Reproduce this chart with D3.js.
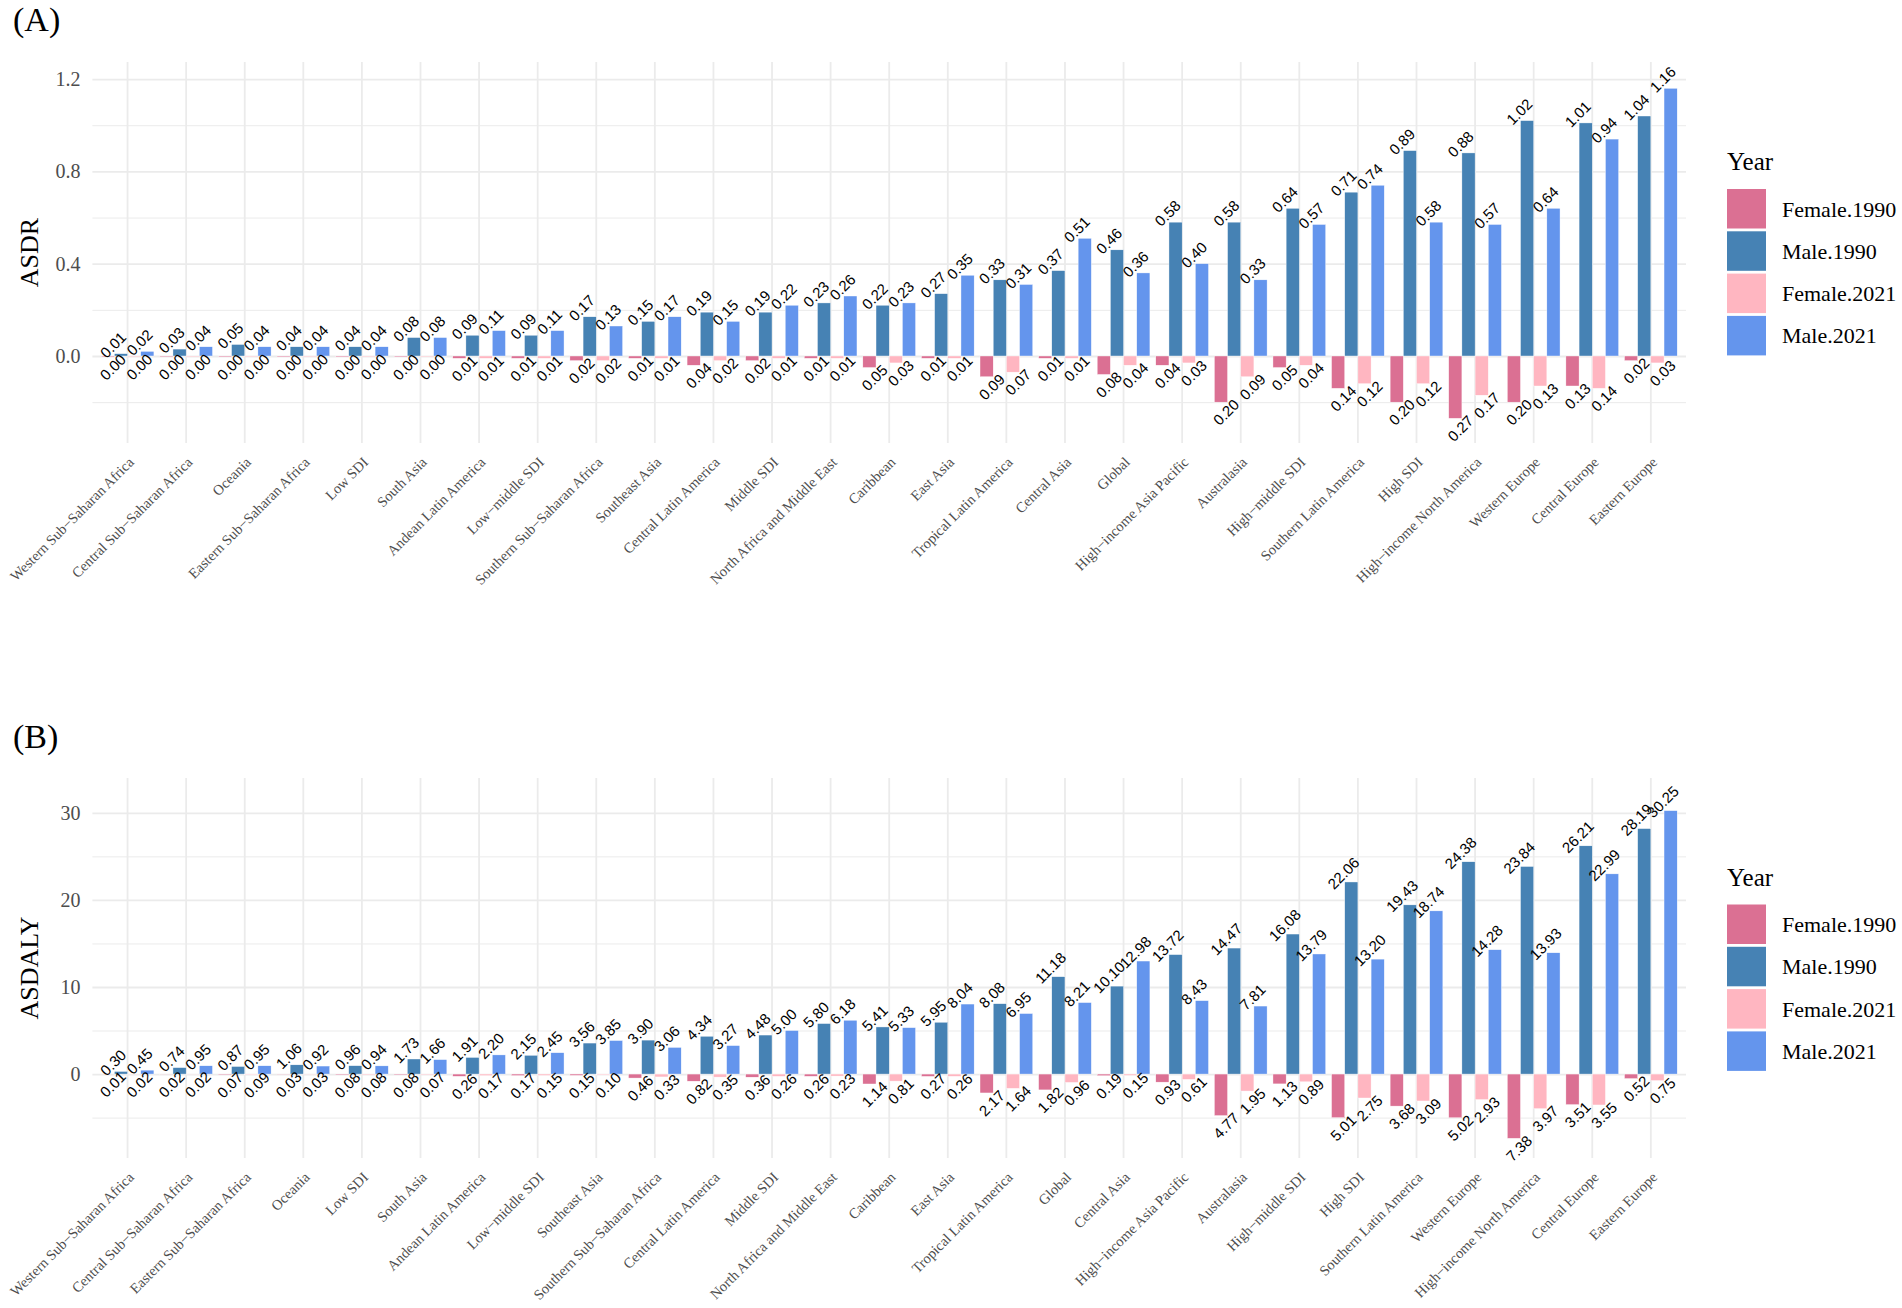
<!DOCTYPE html>
<meta charset="utf-8">
<style>
body { margin: 0; background: #fff; }
svg text { font-family: "Liberation Serif", "Times New Roman", serif; }
.grid line { stroke: #ebebeb; }
.grid path { display: none; }
.vlab { font-family: "Liberation Sans", Arial, sans-serif; font-size: 15px; fill: #000; }
</style>
<svg id="chart" width="1902" height="1308"></svg>
<script src="https://d3js.org/d3.v7.min.js"></script>
<script>

// series order used for dodging and in the legend
var keys = ["Female.1990", "Male.1990", "Female.2021", "Male.2021"];
var colors = ["#DB7093", "#4682B4", "#FFB6C1", "#6495ED"];

// (A) ASDR
var catsA = ["Western Sub−Saharan Africa", "Central Sub−Saharan Africa", "Oceania", "Eastern Sub−Saharan Africa",
  "Low SDI", "South Asia", "Andean Latin America", "Low−middle SDI", "Southern Sub−Saharan Africa", "Southeast Asia",
  "Central Latin America", "Middle SDI", "North Africa and Middle East", "Caribbean", "East Asia",
  "Tropical Latin America", "Central Asia", "Global", "High−income Asia Pacific", "Australasia", "High−middle SDI",
  "Southern Latin America", "High SDI", "High−income North America", "Western Europe", "Central Europe", "Eastern Europe"];
var femaleA1990 = [0.004, 0.003, 0.004, 0.004, 0.004, 0.004, 0.01, 0.01, 0.02, 0.01, 0.04, 0.02, 0.01, 0.05,
  0.01, 0.09, 0.01, 0.08, 0.04, 0.20, 0.05, 0.14, 0.20, 0.27, 0.20, 0.13, 0.02];
var maleA1990 = [0.01, 0.03, 0.05, 0.04, 0.04, 0.08, 0.09, 0.09, 0.17, 0.15, 0.19, 0.19, 0.23, 0.22,
  0.27, 0.33, 0.37, 0.46, 0.58, 0.58, 0.64, 0.71, 0.89, 0.88, 1.02, 1.01, 1.04];
var femaleA2021 = [0.003, 0.003, 0.003, 0.003, 0.003, 0.003, 0.01, 0.01, 0.02, 0.01, 0.02, 0.01, 0.01, 0.03,
  0.01, 0.07, 0.01, 0.04, 0.03, 0.09, 0.04, 0.12, 0.12, 0.17, 0.13, 0.14, 0.03];
var maleA2021 = [0.02, 0.04, 0.04, 0.04, 0.04, 0.08, 0.11, 0.11, 0.13, 0.17, 0.15, 0.22, 0.26, 0.23,
  0.35, 0.31, 0.51, 0.36, 0.40, 0.33, 0.57, 0.74, 0.58, 0.57, 0.64, 0.94, 1.16];
var ticksA = [0, 0.4, 0.8, 1.2];
var minorA = [-0.2, 0.2, 0.6, 1.0];

// (B) ASDALY
var catsB = ["Western Sub−Saharan Africa", "Central Sub−Saharan Africa", "Eastern Sub−Saharan Africa", "Oceania",
  "Low SDI", "South Asia", "Andean Latin America", "Low−middle SDI", "Southeast Asia", "Southern Sub−Saharan Africa",
  "Central Latin America", "Middle SDI", "North Africa and Middle East", "Caribbean", "East Asia",
  "Tropical Latin America", "Global", "Central Asia", "High−income Asia Pacific", "Australasia", "High−middle SDI",
  "High SDI", "Southern Latin America", "Western Europe", "High−income North America", "Central Europe", "Eastern Europe"];
var femaleB1990 = [0.01, 0.02, 0.07, 0.03, 0.08, 0.08, 0.26, 0.17, 0.15, 0.46, 0.82, 0.36, 0.26, 1.14,
  0.27, 2.17, 1.82, 0.19, 0.93, 4.77, 1.13, 5.01, 3.68, 5.02, 7.38, 3.51, 0.52];
var maleB1990 = [0.30, 0.74, 0.87, 1.06, 0.96, 1.73, 1.91, 2.15, 3.56, 3.90, 4.34, 4.48, 5.80, 5.41,
  5.95, 8.08, 11.18, 10.10, 13.72, 14.47, 16.08, 22.06, 19.43, 24.38, 23.84, 26.21, 28.19];
var femaleB2021 = [0.02, 0.02, 0.09, 0.03, 0.08, 0.07, 0.17, 0.15, 0.10, 0.33, 0.35, 0.26, 0.23, 0.81,
  0.26, 1.64, 0.96, 0.15, 0.61, 1.95, 0.89, 2.75, 3.09, 2.93, 3.97, 3.55, 0.75];
var maleB2021 = [0.45, 0.95, 0.95, 0.92, 0.94, 1.66, 2.20, 2.45, 3.85, 3.06, 3.27, 5.00, 6.18, 5.33,
  8.04, 6.95, 8.21, 12.98, 8.43, 7.81, 13.79, 13.20, 18.74, 14.28, 13.93, 22.99, 30.25];
var ticksB = [0, 10, 20, 30];
var minorB = [-5, 5, 15, 25];

var svg = d3.select("#chart");
svg.append("rect").attr("width", 1902).attr("height", 1308).attr("fill", "#fff");

var left = 92.4, right = 1686;
var fmt2 = d3.format(".2f");
var serif = '"Liberation Serif", "Times New Roman", serif';

function panel(p) {
  var g = svg.append("g");

  var x = d3.scaleBand().domain(p.cats).range([left, right]).paddingInner(0).paddingOuter(0.1);
  var bw = x.bandwidth();
  var x1 = d3.scaleBand().domain(keys).range([bw * 0.05, bw * 0.95]);
  var y = d3.scaleLinear().domain(p.domain).range([p.bottom, p.top]);

  // grid
  g.append("g").attr("class", "grid").attr("transform", "translate(" + left + ",0)")
      .call(d3.axisLeft(y).tickValues(p.minor).tickSize(-(right - left)).tickFormat(""))
      .selectAll("line").attr("stroke-width", 1);
  g.append("g").attr("class", "grid").attr("transform", "translate(" + left + ",0)")
      .call(d3.axisLeft(y).tickValues(p.ticks).tickSize(-(right - left)).tickFormat(""))
      .selectAll("line").attr("stroke-width", 1.8);
  g.append("g").attr("class", "grid").attr("transform", "translate(0," + p.bottom + ")")
      .call(d3.axisBottom(x).tickSize(-(p.bottom - p.top)).tickFormat(""))
      .selectAll("line").attr("stroke-width", 1.8);

  // y tick labels
  var ya = g.append("g").attr("transform", "translate(" + left + ",0)")
      .call(d3.axisLeft(y).tickValues(p.ticks).tickSize(0).tickPadding(12).tickFormat(p.tickFmt));
  ya.select(".domain").remove();
  ya.selectAll("text").style("font-family", serif).style("font-size", "20px").style("fill", "#4d4d4d");

  // x tick labels
  var xa = g.append("g").attr("transform", "translate(0," + (p.bottom + 13) + ")")
      .call(d3.axisBottom(x).tickSize(0));
  xa.select(".domain").remove();
  xa.selectAll("text").style("font-family", serif).style("font-size", "14.5px").style("fill", "#4d4d4d")
      .attr("y", 0).attr("x", 0).attr("dy", "0.7em")
      .attr("text-anchor", "end")
      .attr("transform", "rotate(-45)");

  // bars
  var rows = [];
  p.cats.forEach(function(c, i) {
    p.series.forEach(function(s, k) {
      var v = s[i];
      rows.push({ cat: c, key: keys[k], k: k, mag: v, val: k % 2 === 0 ? -v : v });
    });
  });

  g.append("g").selectAll("rect").data(rows).join("rect")
      .attr("x", function(d) { return x(d.cat) + x1(d.key); })
      .attr("width", x1.bandwidth())
      .attr("y", function(d) { return y(Math.max(0, d.val)); })
      .attr("height", function(d) { return Math.abs(y(d.val) - y(0)); })
      .attr("fill", function(d) { return colors[d.k]; })
      .attr("stroke", "#fff").attr("stroke-width", 0.4);

  g.append("g").selectAll("text").data(rows).join("text")
      .attr("class", "vlab")
      .attr("text-anchor", "middle")
      .attr("dominant-baseline", "central")
      .attr("transform", function(d) {
        var cx = x(d.cat) + x1(d.key) + x1.bandwidth() / 2;
        var cy = y(d.val);
        if (d.val >= 0) { cx -= 8; cy -= 9; } else { cx += 5; cy += 10; }
        return "translate(" + cx + "," + cy + ") rotate(-45)";
      })
      .text(function(d) { return fmt2(d.mag); });

  // axis title and panel tag
  var cy = (p.top + p.bottom) / 2;
  g.append("text").attr("transform", "translate(38," + cy + ") rotate(-90)")
      .attr("text-anchor", "middle").attr("font-size", 26).attr("fill", "#000").text(p.title);
  g.append("text").attr("x", 13).attr("y", p.tagY).attr("font-size", 34).attr("fill", "#000").text(p.tag);

  // legend
  var lg = g.append("g").attr("transform", "translate(1727," + (cy + 19) + ")");
  lg.append("text").attr("x", 0).attr("y", -101.5).attr("font-size", 25).attr("fill", "#000").text("Year");
  var item = lg.selectAll("g.item").data(keys).join("g").attr("class", "item")
      .attr("transform", function(d, i) { return "translate(0," + (-82.5 + i * 42.3) + ")"; });
  item.append("rect").attr("width", 39).attr("height", 39.5)
      .attr("fill", function(d, i) { return colors[i]; });
  item.append("text").attr("x", 55).attr("y", 20).attr("dominant-baseline", "central")
      .attr("font-size", 22).attr("fill", "#000").text(function(d) { return d; });
}

panel({
  cats: catsA, series: [femaleA1990, maleA1990, femaleA2021, maleA2021],
  domain: [-0.377, 1.274], top: 62, bottom: 443,
  ticks: ticksA, minor: minorA, tickFmt: d3.format(".1f"),
  title: "ASDR", tag: "(A)", tagY: 31
});

panel({
  cats: catsB, series: [femaleB1990, maleB1990, femaleB2021, maleB2021],
  domain: [-9.64, 34.0], top: 778, bottom: 1158,
  ticks: ticksB, minor: minorB, tickFmt: d3.format("d"),
  title: "ASDALY", tag: "(B)", tagY: 748
});

</script>
